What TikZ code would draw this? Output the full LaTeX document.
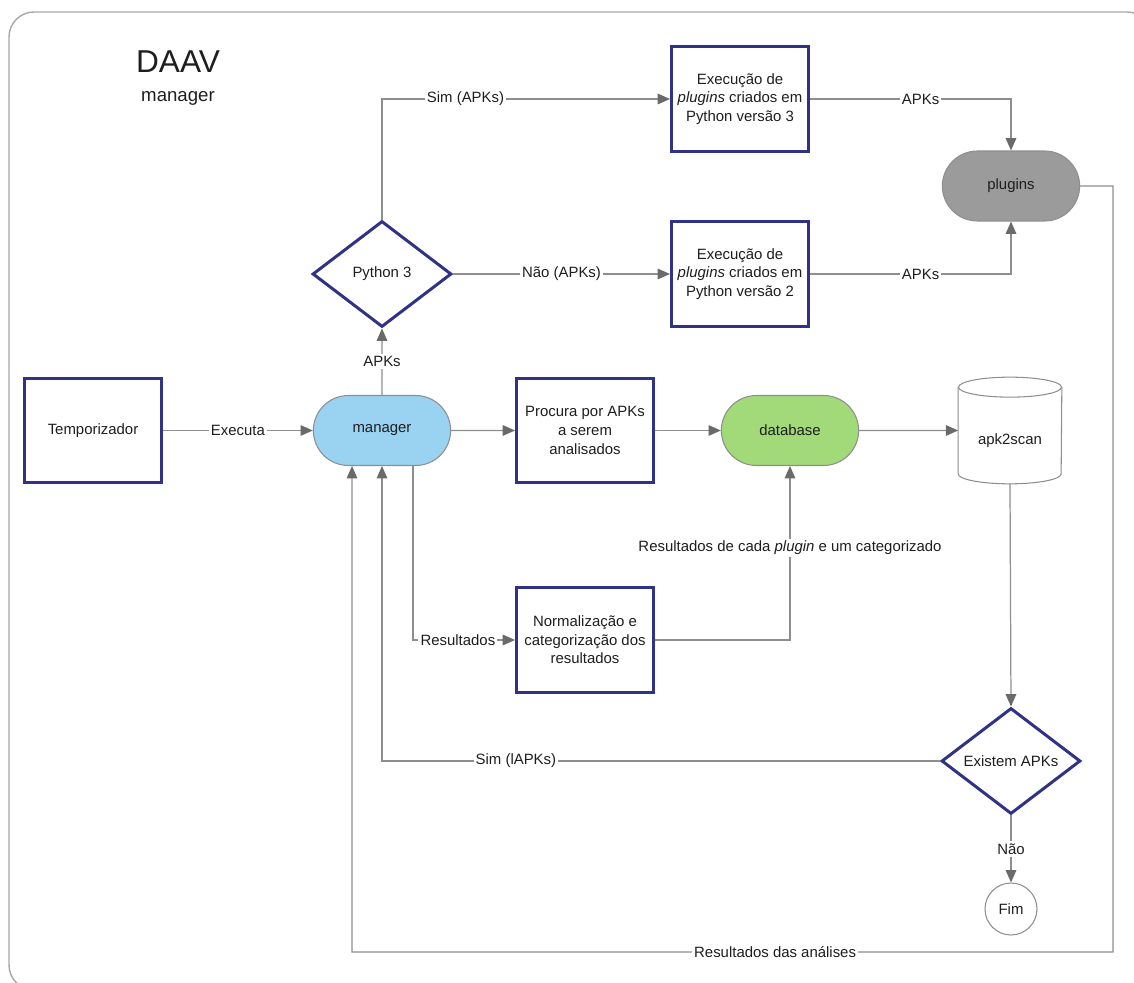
\documentclass[tikz,border=0pt]{standalone}
\usepackage{fontspec}
\setmainfont{Liberation Sans}
\usetikzlibrary{arrows.meta,shapes.geometric,shapes.misc}
\definecolor{navy}{HTML}{2F3285}
\definecolor{linegray}{HTML}{8E8E8E}
\definecolor{tipgray}{HTML}{6A6A6A}
\definecolor{framegray}{HTML}{A8A8A8}
\definecolor{txt}{HTML}{1E1E1E}
\definecolor{mgrblue}{HTML}{9AD2F2}
\definecolor{dbgreen}{HTML}{A2D979}
\definecolor{plggray}{HTML}{9B9B9B}
\begin{document}
\begin{tikzpicture}[x=0.02cm,y=-0.02cm,
  every node/.style={font=\fontsize{8.5pt}{10.6pt}\selectfont, text=txt},
  procbox/.style={draw=navy, line width=1.7pt, fill=white, minimum width=2.74cm, minimum height=2.1cm, align=center, inner sep=1pt},
  decision/.style={diamond, draw=navy, line width=1.7pt, fill=white, minimum width=2.78cm, minimum height=2.12cm, inner sep=0pt, aspect=1.31},
  terminal/.style={rounded rectangle, draw=linegray, line width=0.6pt, minimum width=2.98cm, minimum height=1.4cm},
  conn/.style={draw=linegray, line width=0.7pt, -{Triangle[length=7pt,width=6pt,color=tipgray]}},
  lbl/.style={fill=white, inner sep=1.2pt}
]
\useasboundingbox (0,0) rectangle (1134,983);
\begin{scope}
\clip (0,0) rectangle (1134,983);
\draw[framegray, line width=0.8pt, rounded corners=0.5cm] (9,12) rectangle (1152,990);
\end{scope}

% title
\node (title) at (178,62) {\fontsize{18pt}{20pt}\selectfont DAAV};
\node (subtitle) at (178,98) {\fontsize{10.6pt}{12pt}\selectfont manager};

% nodes
\node[procbox] (temp) at (93,430.5) {Temporizador};
\node[terminal, fill=mgrblue] (mgr) at (382,430.5) {manager};
\node[decision] (py) at (382,274) {Python 3};
\node[procbox] (ex3) at (740,99) {Execução de\\\textit{plugins} criados em\\Python versão 3};
\node[procbox] (ex2) at (740,274) {Execução de\\\textit{plugins} criados em\\Python versão 2};
\node[terminal, fill=plggray] (plg) at (1011,186) {plugins};
\node[procbox] (proc) at (585,430.5) {Procura por APKs\\a serem\\analisados};
\node[terminal, fill=dbgreen] (db) at (790,430.5) {database};
\node[minimum width=2.06cm, minimum height=2.12cm, inner sep=0pt] (scan) at (1010,430.5) {};
\node (scantext) at ([yshift=-0.2cm]scan.center) {apk2scan};
\node[procbox] (norm) at (585,640) {Normalização e\\categorização dos\\resultados};
\node[decision] (exist) at (1011,761) {Existem APKs};
\node[circle, draw=linegray, line width=0.6pt, minimum size=1.04cm, inner sep=0pt] (fim) at (1011,909) {Fim};

% cylinder outline of apk2scan
\draw[linegray, line width=0.6pt] ([yshift=-0.2cm]scan.north) ellipse [x radius=1.03cm, y radius=0.2cm];
\draw[linegray, line width=0.6pt] ([yshift=-0.2cm]scan.north west) -- ([yshift=0.2cm]scan.south west)
  arc[start angle=180, end angle=360, x radius=1.03cm, y radius=0.2cm] -- ([yshift=-0.2cm]scan.north east);

% corners of the return path
\coordinate (cornerR) at (1113,952);
\coordinate (cornerL) at (352,952);

% connectors
\draw[conn] (temp) -- node[lbl]{Executa} (mgr);
\draw[conn] (mgr) -- node[lbl]{APKs} (py);
\draw[conn] (py.north) |- node[lbl, pos=0.645]{Sim (APKs)} (ex3.west);
\draw[conn] (py.east) -- node[lbl]{Não (APKs)} (ex2.west);
\draw[conn] (ex3.east) -| node[lbl, pos=0.275]{APKs} (plg.north);
\draw[conn] (ex2.east) -| node[lbl, pos=0.275]{APKs} (plg.south);
\draw[conn] (mgr) -- (proc);
\draw[conn] (proc) -- (db);
\draw[conn] (db) -- (scan.west);
\draw[conn] (scan.south) -- (exist.north);
\draw[conn] (exist.south) -- node[lbl]{Não} (fim.north);
\draw[conn] ([xshift=0.62cm]mgr.south) |- node[lbl, pos=0.72]{Resultados} (norm.west);
\draw[conn] (norm.east) -| node[lbl, pos=0.765]{Resultados de cada \textit{plugin} e um categorizado} (db.south);
\draw[conn] (exist.west) -| node[lbl, pos=0.38]{Sim (lAPKs)} (mgr.south);
\draw[conn] (plg.east) -| (cornerR) -- node[lbl, pos=0.444]{Resultados das análises} (cornerL) -- ([xshift=-0.6cm]mgr.south);
\end{tikzpicture}
\end{document}
